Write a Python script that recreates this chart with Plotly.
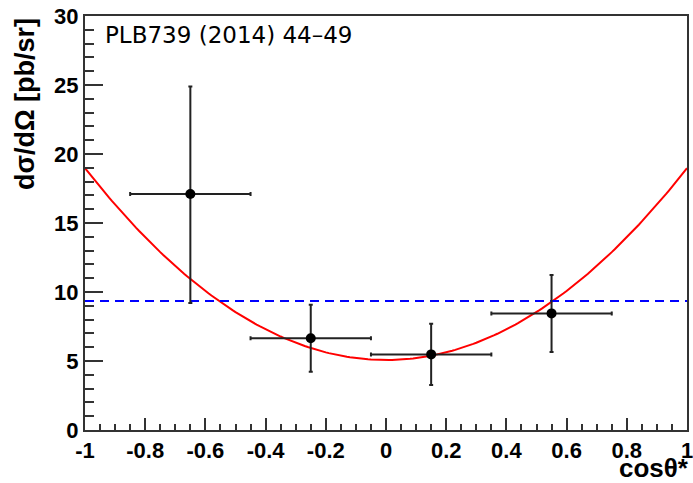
import numpy as np
import plotly.graph_objects as go

# Data points
x_center = [-0.65, -0.25, 0.15, 0.55]
x_half = [0.2, 0.2, 0.2, 0.2]
y_val = [17.1, 6.65, 5.48, 8.45]
y_err_up = [7.8, 2.42, 2.22, 2.78]
y_err_down = [7.9, 2.42, 2.22, 2.80]

# Flat (isotropic) expectation
flat_level = 9.35
# Fit: a + b * cos^2
fit_a = 5.07
fit_b = 13.9

x_tickvals = [-1, -0.8, -0.6, -0.4, -0.2, 0, 0.2, 0.4, 0.6, 0.8, 1]
x_ticktext = ["-1", "-0.8", "-0.6", "-0.4", "-0.2", "0", "0.2", "0.4", "0.6", "0.8", "1"]
y_tickvals = [0, 5, 10, 15, 20, 25, 30]
y_ticktext = ["0", "5", "10", "15", "20", "25", "30"]

W, H = 693, 483
ml, mr, mt, mb = 85, 6, 16, 53
PW, PH = W - ml - mr, H - mt - mb

fig = go.Figure()

xf = np.linspace(-1, 1, 201)
fig.add_trace(go.Scatter(x=xf, y=fit_a + fit_b * xf**2, mode="lines",
                         line=dict(color="#ff0000", width=2), hoverinfo="skip"))
fig.add_trace(go.Scatter(x=[-1, 1], y=[flat_level, flat_level], mode="lines",
                         line=dict(color="#0000ff", width=2, dash="9px,6px"), hoverinfo="skip"))
fig.add_trace(go.Scatter(
    x=x_center, y=y_val, mode="markers",
    marker=dict(color="black", size=10),
    error_x=dict(type="data", array=x_half, color="#222", thickness=2, width=2),
    error_y=dict(type="data", symmetric=False, array=y_err_up, arrayminus=y_err_down,
                 color="#222", thickness=2, width=2),
))

axis_font = dict(family="Liberation Sans", size=22, color="black", weight="bold")

fig.update_xaxes(range=[-1, 1], tickmode="array", tickvals=x_tickvals, ticktext=x_ticktext,
                 ticks="inside", ticklen=12, tickwidth=1.5, tickcolor="#333",
                 minor=dict(tickmode="linear", tick0=-1, dtick=0.05, ticks="inside",
                            ticklen=6, tickwidth=1.5, tickcolor="#333"),
                 showline=True, linecolor="#333", linewidth=2, mirror=True,
                 showgrid=False, zeroline=False, tickfont=axis_font, automargin=False,
                 ticklabeloverflow="allow")
fig.update_yaxes(range=[0, 30], tickmode="array", tickvals=y_tickvals, ticktext=y_ticktext,
                 ticks="inside", ticklen=18, tickwidth=1.5, tickcolor="#333",
                 minor=dict(tickmode="linear", tick0=0, dtick=1, ticks="inside",
                            ticklen=9, tickwidth=1.5, tickcolor="#333"),
                 showline=True, linecolor="#333", linewidth=2, mirror=True,
                 showgrid=False, zeroline=False, tickfont=axis_font, automargin=False,
                 ticklabeloverflow="allow")

fig.add_annotation(text="PLB739 (2014) 44\u201349", xref="paper", yref="paper",
                   x=18 / PW, y=1 - 4 / PH, xanchor="left", yanchor="top",
                   showarrow=False, font=dict(family="DejaVu Sans", size=23, color="black"))
fig.add_annotation(text="<b>cos\u03b8*</b>", xref="paper", yref="paper",
                   x=1.007, y=-55 / PH, xanchor="right", yanchor="bottom",
                   showarrow=False, font=dict(family="Liberation Sans", size=26, color="black"))
fig.add_annotation(text="<b>d\u03c3/d\u03a9 [pb/sr]</b>", xref="paper", yref="paper",
                   x=-60 / PW, y=1.0, xanchor="center", yanchor="top",
                   textangle=-90, showarrow=False,
                   font=dict(family="Liberation Sans", size=27, color="black"))

fig.update_layout(width=W, height=H, margin=dict(l=ml, r=mr, t=mt, b=mb),
                  paper_bgcolor="white", plot_bgcolor="white", showlegend=False)

fig.write_html("out.html")
